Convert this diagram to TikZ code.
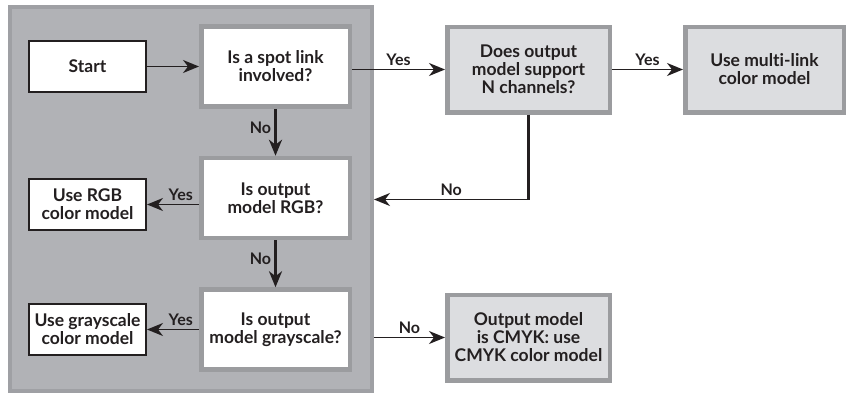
\documentclass[tikz,border=0pt]{standalone}
\usepackage{fontspec}
\setmainfont{Lato}[Ligatures=NoCommon]
\usetikzlibrary{positioning, arrows.meta}

\definecolor{panelgray}{HTML}{B1B2B6}
\definecolor{paneledge}{HTML}{9FA0A4}
\definecolor{boxedge}{HTML}{9B9C9F}
\definecolor{boxfill}{HTML}{DCDDE0}
\definecolor{ink}{HTML}{231F20}

\begin{document}
\begin{tikzpicture}[
  x=1pt, y=1pt,
  font=\fontsize{17.5}{18}\selectfont\bfseries,
  text=ink,
  panel/.style={draw=paneledge, fill=panelgray, line width=4pt},
  result/.style={draw=ink, fill=white, line width=2pt, minimum width=117pt, minimum height=51pt, align=center, inner sep=1pt},
  question/.style={draw=boxedge, fill=white, line width=4.5pt, minimum width=148.5pt, minimum height=80pt, align=center, inner sep=1pt},
  outbox/.style={draw=boxedge, fill=boxfill, line width=4.5pt, minimum width=162.5pt, minimum height=85.5pt, align=center, inner sep=1pt},
  flow/.style={draw=ink, line width=1.3pt, -{Stealth[length=16pt,width=13pt,inset=5pt]}},
  down/.style={flow, line width=2.8pt},
  lbl/.style={font=\fontsize{16}{17}\selectfont\bfseries, inner sep=3pt}
]
\useasboundingbox (0,0) rectangle (846,-394);

% shaded panel behind the first decisions
\node[panel, minimum width=362pt, minimum height=384pt] (panel) at (191,-199) {};

\node[result] (start) at (87.5,-66.5) {Start};
\node[question, right=52pt of start] (spot) {Is a spot link\\involved?};
\node[question, below=47pt of spot] (rgbq) {Is output\\model RGB?};
\node[question, below=47pt of rgbq] (grayq) {Is output\\model grayscale?};
\node[result, below=85pt of start] (usergb) {Use RGB\\color model};
\node[result, left=52pt of grayq] (usegray) {Use grayscale\\color model};

% boxes outside the panel
\node[outbox, right=93pt of spot, yshift=-3pt] (nchan) {Does output\\model support\\N channels?};
\node[outbox, right=71pt of nchan, minimum width=158.5pt] (multi) {Use multi-link\\color model};
\node[outbox, below=178pt of nchan] (cmyk) {Output model\\is CMYK: use\\CMYK color model};

\draw[flow] (start) -- (spot);
\draw[flow] (spot.east |- nchan) -- node[lbl, above] {Yes} (nchan);
\draw[flow] (nchan) -- node[lbl, above] {Yes} (multi);
\draw[down] (spot) -- node[lbl, left, pos=0.4] {No} (rgbq);
\draw[down] (rgbq) -- node[lbl, left, pos=0.4] {No} (grayq);
\draw[flow] (rgbq.west |- usergb) -- node[lbl, above, pos=0.35] {Yes} (usergb);
\draw[flow] (grayq.west |- usegray) -- node[lbl, above, pos=0.35] {Yes} (usegray);

% N channels not supported: back into the panel
\coordinate[below=85pt of nchan.south] (elbow);
\draw[ink, line width=2.8pt] (nchan.south) -- ([yshift=-0.65pt]elbow);
\draw[flow] (elbow) -- node[lbl, above] {No} (elbow -| panel.east);
\draw[flow] (panel.east |- cmyk) -- node[lbl, above] {No} (cmyk);

\end{tikzpicture}
\end{document}
